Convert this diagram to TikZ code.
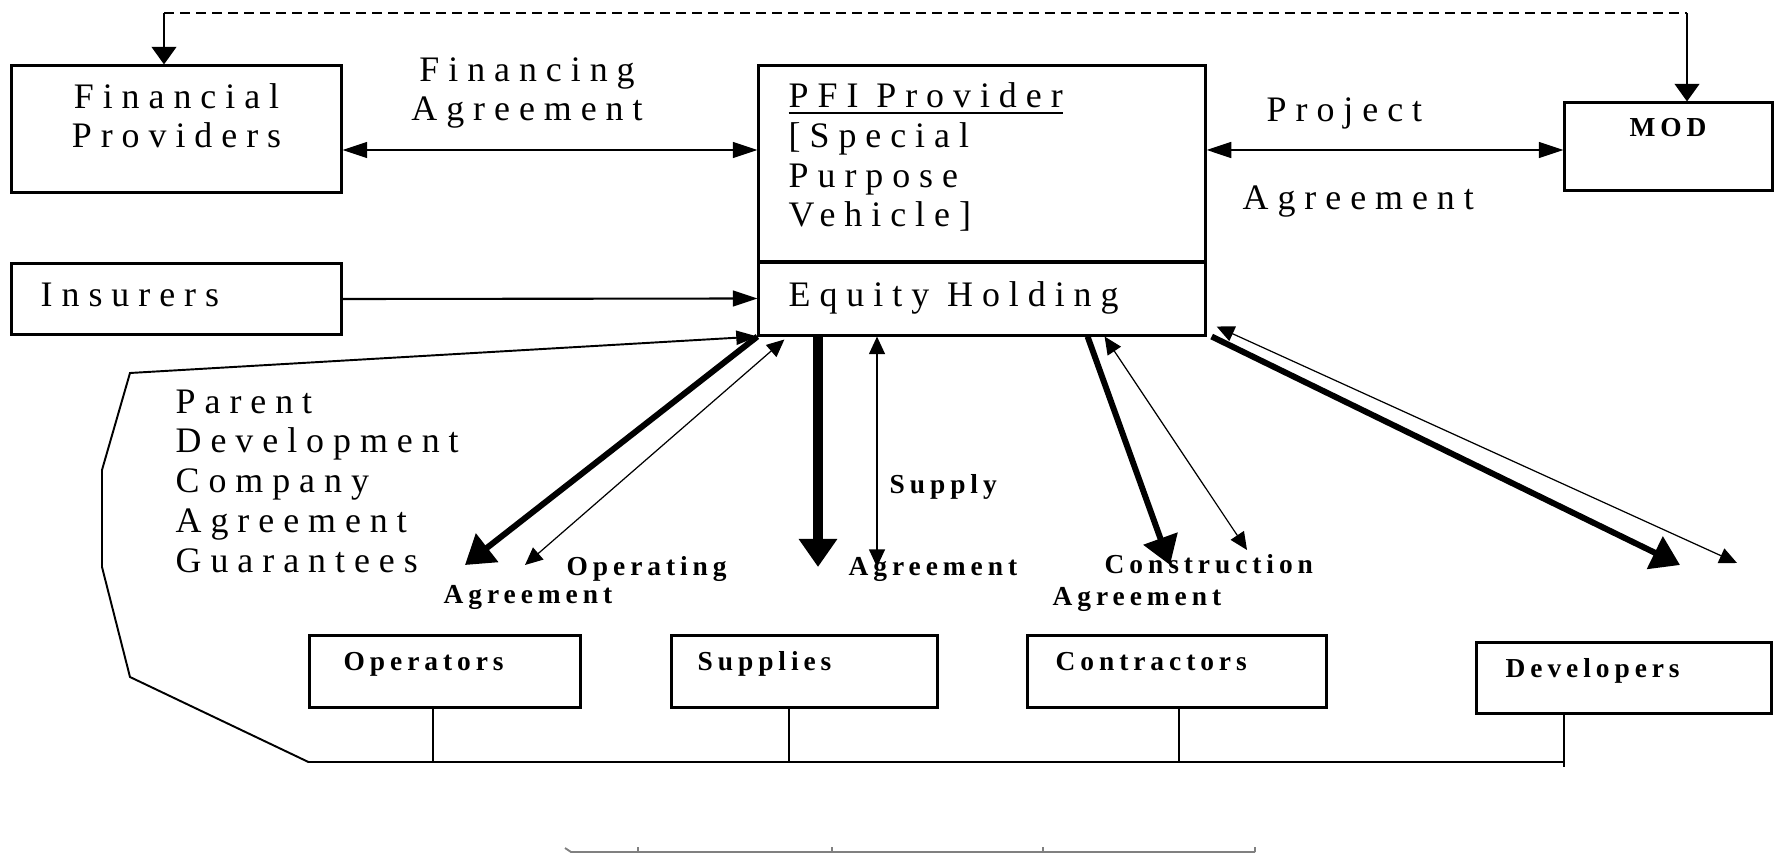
\documentclass[tikz,border=0pt]{standalone}
\usepackage{fontspec}
\usepackage{tikz}
\usetikzlibrary{arrows.meta}
\newfontfamily\boxfont[LetterSpace=25]{Liberation Serif}
\newfontfamily\tagfont[LetterSpace=18]{Liberation Serif Bold}

\tikzset{
  box/.style={draw, line width=0.85pt, inner sep=0pt},
  big/.style={font=\fontsize{10.2}{11.3}\boxfont, inner sep=0pt, align=left},
  tag/.style={font=\fontsize{7.8}{8.5}\tagfont, inner sep=0pt},
  twoway/.style={line width=0.6pt, {Triangle[length=7pt,width=4.5pt]}-{Triangle[length=7pt,width=4.5pt]}},
  oneway/.style={line width=0.6pt, -{Triangle[length=7pt,width=4.5pt]}},
  drop/.style={line width=0.6pt, -{Triangle[length=5pt,width=7pt]}},
  fence/.style={line width=0.55pt, -{Triangle[length=6pt,width=4pt]}},
  fat/.style={line width=1.7pt, -{Triangle[length=8pt,width=10pt]}},
  bar/.style={line width=2.8pt, -{Triangle[length=8pt,width=10.5pt]}},
  slim/.style={line width=0.35pt, {Triangle[length=5pt,width=4.5pt]}-{Triangle[length=5pt,width=4.5pt]}},
  stem/.style={line width=0.7pt}
}

\begin{document}
\begin{tikzpicture}[x=0.01cm, y=-0.01cm]
  \useasboundingbox (0,0) rectangle (1779,855);

  % boxes
  \node[box, minimum width=3.29cm, minimum height=1.26cm] (fin) at (176.5,129) {};
  \node[box, minimum width=3.29cm, minimum height=0.70cm] (ins) at (176.5,299) {};
  \node[box, minimum width=4.46cm, minimum height=1.96cm] (spv) at (982,164) {};
  \node[box, minimum width=4.46cm, minimum height=0.73cm] (equity) at (982,298.5) {};
  \node[box, minimum width=2.07cm, minimum height=0.87cm] (mod) at (1668.5,146.5) {};
  \node[box, minimum width=2.70cm, minimum height=0.71cm] (ops) at (445,671.5) {};
  \node[box, minimum width=2.65cm, minimum height=0.71cm] (sup) at (804.5,671.5) {};
  \node[box, minimum width=2.98cm, minimum height=0.71cm] (con) at (1177,671.5) {};
  \node[box, minimum width=2.94cm, minimum height=0.70cm] (dev) at (1624,678) {};

  % texts (multi-line ones sit on their last baseline)
  \node[big, align=center, anchor=base] (fintxt) at (176.5,148) {Financial\\Providers};
  \node[big, anchor=base west] (instxt) at (40,307) {Insurers};
  \node[big, align=center, anchor=base] (fatxt) at (527,121) {Financing\\Agreement};
  \node[big, anchor=base west] (spvtxt) at (788,227) {\underline{PFI Provider}\\{[}Special\\Purpose\\Vehicle]};
  \node[big, anchor=base west] (eqtxt) at (788,307) {Equity Holding};
  \node[big, anchor=base west] (projtxt) at (1266,122) {Project};
  \node[big, anchor=base west] (patxt) at (1242,210) {Agreement};
  \node[big, anchor=base west] (pdctxt) at (175,572) {Parent\\Development\\Company\\Agreement\\Guarantees};
  \node[tag, anchor=base] (modtxt) at (1668,137) {MOD};
  \node[tag, anchor=base west] (opstxt) at (343,670) {Operators};
  \node[tag, anchor=base west] (suptxt) at (697,670) {Supplies};
  \node[tag, anchor=base west] (contxt) at (1055,670) {Contractors};
  \node[tag, anchor=base west] (devtxt) at (1505,677) {Developers};
  \node[tag, anchor=base west] (optxt) at (566,575) {Operating};
  \node[tag, anchor=base west] (oatxt) at (443,603) {Agreement};
  \node[tag, anchor=base west] (sytxt) at (889,493) {Supply};
  \node[tag, anchor=base west] (satxt) at (848,575) {Agreement};
  \node[tag, anchor=base west] (cotxt) at (1104,573) {Construction};
  \node[tag, anchor=base west] (catxt) at (1052,605) {Agreement};

  % top links
  \coordinate (fa) at (0,150);
  \draw[twoway] (fin.east |- fa) -- (spv.west |- fa);
  \draw[twoway] (spv.east |- fa) -- (mod.west |- fa);
  \draw[oneway] (ins.east) -- (equity.west);

  \coordinate (dl) at (164,13);
  \coordinate (dr) at (1687,13);
  \draw[line width=0.6pt, dash pattern=on 0.1cm off 0.06cm] (dl) -- (dr);
  \draw[drop] (dl) -- (dl |- fin.north);
  \draw[drop] (dr) -- (dr |- mod.north);

  % parent company outline and bus
  \coordinate (bus) at (0,762);
  \coordinate (busend) at (1564,767);
  \draw[fence] (ops.west |- bus) -- (130,677) -- (102,567) -- (102,470) -- (130,373) -- (equity.south west);
  \draw[stem] (ops.west |- bus) -- (busend |- bus);
  \foreach \b/\x in {ops/433, sup/789, con/1179}{
    \coordinate (sx) at (\x,0);
    \draw[stem] (\b.south -| sx) -- (sx |- bus);
  }
  \draw[stem] (dev.south -| busend) -- (busend);

  % agreements down to the contractors
  \coordinate (g1) at (465,565);
  \coordinate (g2) at (525,565);
  \coordinate (s1) at (818,567);
  \coordinate (s2) at (877,567);
  \coordinate (c1) at (1170,565);
  \coordinate (c2) at (1247,550);
  \coordinate (d1) at (1680,565);
  \coordinate (d2) at (1737,563);
  \draw[fat] (equity.south west) -- (g1);
  \draw[slim] ([xshift=0.27cm,yshift=-0.03cm]equity.south west) -- (g2);
  \draw[bar] (s1 |- equity.south) -- (s1);
  \draw[slim, line width=0.5pt] (s2 |- equity.south) -- (s2);
  \draw[fat] ([xshift=3.30cm]equity.south west) -- (c1);
  \draw[slim] ([xshift=3.47cm]equity.south west) -- (c2);
  \draw[fat] ([xshift=0.05cm]equity.south east) -- (d1);
  \draw[slim] ([xshift=0.1cm,yshift=0.1cm]equity.south east) -- (d2);

  % scale bar
  \draw[gray, line width=0.55pt] (565,848) -- (571,852) -- (1255,852);
  \foreach \t in {638,832,1043,1255}
    \draw[gray, line width=0.55pt] (\t,852) -- (\t,847);
\end{tikzpicture}
\end{document}
